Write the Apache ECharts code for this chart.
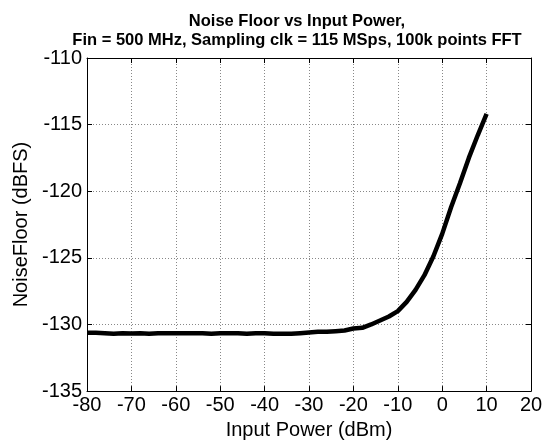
<!DOCTYPE html>
<html>
<head>
<meta charset="utf-8">
<script src="https://cdn.jsdelivr.net/npm/echarts@6/dist/echarts.min.js"></script>
<style>
  html, body { margin: 0; padding: 0; background: #fff; }
  #chart { width: 554px; height: 445px; }
</style>
</head>
<body>
<div id="chart"></div>
<script>
// input power (dBm)
const inputPower = [-80, -78, -76, -74, -72, -70, -68, -66, -64, -62, -60, -58, -56, -54, -52, -50,
  -48, -46, -44, -42, -40, -38, -36, -34, -32, -30, -28, -26, -24, -22, -20, -18, -16, -14, -12,
  -10, -8, -6, -4, -2, 0, 2, 4, 6, 8, 10];
// noise floor (dBFS)
const noiseFloor = [-130.62, -130.62, -130.65, -130.7, -130.65, -130.68, -130.65, -130.7, -130.65,
  -130.65, -130.65, -130.65, -130.65, -130.65, -130.7, -130.65, -130.65, -130.65, -130.7, -130.65,
  -130.65, -130.7, -130.7, -130.7, -130.65, -130.6, -130.55, -130.55, -130.5, -130.45, -130.3,
  -130.25, -130.0, -129.7, -129.4, -129.0, -128.3, -127.4, -126.3, -124.9, -123.2, -121.2,
  -119.4, -117.5, -115.8, -114.2];

const titleLines = ['Noise Floor vs Input Power,', 'Fin = 500 MHz, Sampling clk = 115 MSps, 100k points FFT'];

const font = 'Arial, "Liberation Sans", sans-serif';

const chart = echarts.init(document.getElementById('chart'));

const gridLine = { show: true, lineStyle: { color: '#888', type: [1, 2], width: 1 } };
const boxLine = { show: true, onZero: false, lineStyle: { color: '#000', width: 1 } };
const inTick = { show: true, inside: true, length: 5, lineStyle: { color: '#000' } };

chart.setOption({
  animation: false,
  title: {
    text: titleLines.join('\n'),
    left: 292,
    textAlign: 'center',
    top: 7,
    textStyle: { fontFamily: font, fontWeight: 'bold', fontSize: 16.5, color: '#000', lineHeight: 19 }
  },
  grid: { left: 87, right: 23, top: 58, bottom: 53 },
  xAxis: [
    {
      type: 'value', min: -80, max: 20, interval: 10, position: 'bottom',
      name: 'Input Power (dBm)', nameLocation: 'middle', nameGap: 27,
      nameTextStyle: { fontFamily: font, fontSize: 20, color: '#000' },
      axisLine: boxLine, axisTick: inTick, splitLine: gridLine,
      axisLabel: { fontFamily: font, fontSize: 20, color: '#000', margin: 4 }
    },
    {
      type: 'value', min: -80, max: 20, interval: 10, position: 'top',
      axisLine: boxLine, axisTick: inTick, splitLine: { show: false }, axisLabel: { show: false }
    }
  ],
  yAxis: [
    {
      type: 'value', min: -135, max: -110, interval: 5, position: 'left',
      name: 'NoiseFloor (dBFS)', nameLocation: 'middle', nameGap: 53,
      nameTextStyle: { fontFamily: font, fontSize: 20, color: '#000' },
      axisLine: boxLine, axisTick: inTick, splitLine: gridLine,
      axisLabel: { fontFamily: font, fontSize: 20, color: '#000', margin: 5 }
    },
    {
      type: 'value', min: -135, max: -110, interval: 5, position: 'right',
      axisLine: boxLine, axisTick: inTick, splitLine: { show: false }, axisLabel: { show: false }
    }
  ],
  series: [
    {
      type: 'line',
      xAxisIndex: 0,
      yAxisIndex: 0,
      data: inputPower.map((x, i) => [x, noiseFloor[i]]),
      showSymbol: false,
      lineStyle: { color: '#000', width: 4.5 },
      z: 5
    }
  ]
});
</script>
</body>
</html>
